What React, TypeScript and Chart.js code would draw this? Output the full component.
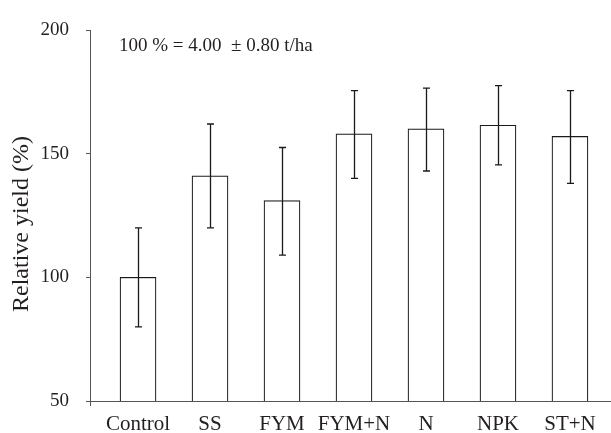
import React, { useEffect, useRef } from "react";
import { Chart, registerables } from "chart.js";

Chart.register(...registerables);

const categories = ["Control", "SS", "FYM", "FYM+N", "N", "NPK", "ST+N"];
const yieldValues = [100, 141, 131, 158, 160, 161.5, 157];
const errUpper = [120, 162, 152.5, 175.5, 176.5, 177.5, 175.5];
const errLower = [80, 120, 109, 140, 143, 145.5, 138];
const yTicks = [50, 100, 150, 200];
const noteText = "100 % = 4.00  \u00b1 0.80 t/ha";
const yTitle = "Relative yield (%)";

const FONT = "'Liberation Serif', 'Times New Roman', serif";
const INK = "#231f20";

const overlayPlugin = {
  id: "overlay",
  afterDatasetsDraw(chart: any) {
    const { ctx, scales } = chart;
    const x = scales.x;
    const y = scales.y;
    ctx.save();
    ctx.strokeStyle = "#1a1a1a";
    ctx.lineWidth = 1.3;
    categories.forEach((_, i) => {
      const px = Math.round(x.getPixelForValue(i)) + 0.5;
      const top = y.getPixelForValue(errUpper[i]);
      const bot = y.getPixelForValue(errLower[i]);
      ctx.beginPath();
      ctx.moveTo(px, top);
      ctx.lineTo(px, bot);
      ctx.moveTo(px - 3.5, top);
      ctx.lineTo(px + 3.5, top);
      ctx.moveTo(px - 3.5, bot);
      ctx.lineTo(px + 3.5, bot);
      ctx.stroke();
    });
    ctx.restore();
  },
  afterDraw(chart: any) {
    const { ctx, chartArea } = chart;
    ctx.save();
    ctx.fillStyle = INK;
    ctx.font = `19px ${FONT}`;
    ctx.textBaseline = "middle";
    ctx.textAlign = "left";
    ctx.fillText(noteText, 119, 46);
    ctx.translate(22, 224);
    ctx.rotate(-Math.PI / 2);
    ctx.textAlign = "center";
    ctx.font = `24px ${FONT}`;
    ctx.fillText(yTitle, 0, 0);
    ctx.restore();
    ctx.save();
    ctx.strokeStyle = "#555";
    ctx.lineWidth = 1;
    ctx.beginPath();
    ctx.moveTo(chartArea.left + 0.5, chartArea.bottom);
    ctx.lineTo(chartArea.left + 0.5, chartArea.bottom + 5);
    ctx.stroke();
    ctx.restore();
  },
};

export default function App() {
  const ref = useRef<HTMLCanvasElement | null>(null);
  useEffect(() => {
    if (!ref.current) return;
    const chart = new Chart(ref.current, {
      type: "bar",
      data: {
        datasets: [
          {
            data: categories.map((_, i) => ({ x: i, y: yieldValues[i] })),
            backgroundColor: "#ffffff",
            borderColor: "#1a1a1a",
            borderWidth: 1.2,
            barThickness: 36,
          },
        ],
      },
      options: {
        responsive: false,
        animation: false,
        events: [],
        layout: { padding: { top: 30, right: 0, left: 0, bottom: 0 } },
        plugins: { legend: { display: false }, tooltip: { enabled: false } },
        scales: {
          x: {
            type: "linear",
            offset: false,
            min: -0.667,
            max: 6.57,
            afterBuildTicks: (s: any) => {
              s.ticks = categories.map((_, i) => ({ value: i }));
            },
            afterFit: (s: any) => {
              s.height = 32;
            },
            grid: { display: false },
            border: { display: true, color: "#555", width: 1 },
            ticks: {
              autoSkip: false,
              maxRotation: 0,
              padding: 3,
              color: INK,
              font: { family: FONT, size: 21 },
              callback: (v: any) => categories[v] ?? "",
            },
          },
          y: {
            min: 50,
            max: 200,
            afterBuildTicks: (s: any) => {
              s.ticks = yTicks.map((v) => ({ value: v }));
            },
            afterFit: (s: any) => {
              s.width = 90;
            },
            grid: {
              drawOnChartArea: false,
              drawTicks: true,
              tickLength: 4,
              color: "#555",
            },
            border: { display: true, color: "#555", width: 1 },
            ticks: {
              padding: 17,
              color: INK,
              font: { family: FONT, size: 19 },
            },
          },
        },
      },
      plugins: [overlayPlugin],
    });
    return () => chart.destroy();
  }, []);
  return (
    <div style={{ position: "fixed", left: 0, top: 0, width: 611, height: 433, background: "#fff" }}>
      <canvas ref={ref} width={611} height={433} style={{ display: "block" }} />
    </div>
  );
}
